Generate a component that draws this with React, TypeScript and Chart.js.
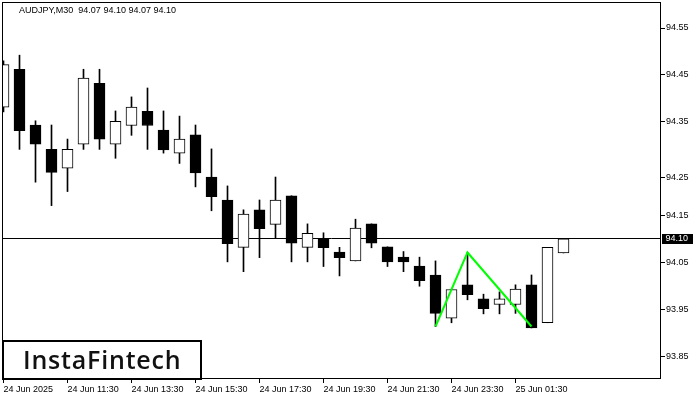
import React, { useEffect, useRef } from "react";
import { Chart, registerables } from "chart.js";

Chart.register(...registerables);

// ---- data ----
const symbolTitle = "AUDJPY,M30  94.07 94.10 94.07 94.10";
const opens = [
  94.381, 94.462, 94.343, 94.291, 94.251, 94.302, 94.432, 94.302, 94.342, 94.372,
  94.332, 94.283, 94.322, 94.232, 94.183, 94.082, 94.162, 94.131, 94.192, 94.082,
  94.1, 94.072, 94.053, 94.132, 94.083, 94.061, 94.042, 94.023, 93.931, 94.002,
  93.972, 93.96, 93.96, 94.002, 93.921, 94.07,
];
const highs = [
  94.48, 94.492, 94.352, 94.343, 94.313, 94.462, 94.462, 94.373, 94.403, 94.422,
  94.373, 94.362, 94.343, 94.292, 94.213, 94.162, 94.183, 94.232, 94.192, 94.132,
  94.113, 94.082, 94.142, 94.132, 94.083, 94.073, 94.061, 94.053, 93.992, 94.071,
  93.982, 93.987, 94.002, 94.023, 94.082, 94.1,
];
const lows = [
  94.371, 94.291, 94.221, 94.171, 94.201, 94.291, 94.291, 94.272, 94.321, 94.291,
  94.283, 94.261, 94.211, 94.16, 94.051, 94.03, 94.06, 94.101, 94.051, 94.051,
  94.041, 94.021, 94.053, 94.081, 94.041, 94.03, 93.999, 93.913, 93.921, 93.97,
  93.94, 93.94, 93.941, 93.91, 93.921, 94.07,
];
const closes = [
  94.472, 94.331, 94.302, 94.242, 94.291, 94.443, 94.313, 94.351, 94.381, 94.342,
  94.29, 94.313, 94.241, 94.19, 94.09, 94.153, 94.122, 94.183, 94.091, 94.112,
  94.081, 94.06, 94.123, 94.091, 94.051, 94.051, 94.011, 93.941, 93.992, 93.981,
  93.951, 93.972, 93.993, 93.91, 94.082, 94.1,
];
const xTickIndex = [0, 4, 8, 12, 16, 20, 24, 28, 32];
const xTickLabels = [
  "24 Jun 2025", "24 Jun 11:30", "24 Jun 13:30", "24 Jun 15:30", "24 Jun 17:30",
  "24 Jun 19:30", "24 Jun 21:30", "24 Jun 23:30", "25 Jun 01:30",
];
const yTickValues = [94.55, 94.45, 94.35, 94.23, 94.15, 94.05, 93.95, 93.85];
const yTickLabels = ["94.55", "94.45", "94.35", "94.25", "94.15", "94.05", "93.95", "93.85"];
const currentPrice = 94.1;
const currentPriceLabel = "94.10";
const patternIndex = [27, 29, 33];
const patternPrice = [93.913, 94.071, 93.913];
const logoText = "InstaFintech";

const X_MIN = -0.09375;
const X_MAX = 41.09375;
const Y_MIN = 93.801;
const Y_MAX = 94.6055;

const SMALL_FONT = "'Liberation Sans', Arial, sans-serif";

export default function App() {
  const ref = useRef<HTMLCanvasElement>(null);

  useEffect(() => {
    const canvas = ref.current;
    if (!canvas) return;
    const idx = opens.map((_, i) => i);
    const bodies = idx.map((i) => ({
      x: i,
      y: [Math.min(opens[i], closes[i]), Math.max(opens[i], closes[i])],
    }));
    const wicks = idx.map((i) => ({ x: i, y: [lows[i], highs[i]] }));
    const bodyColors = idx.map((i) => (closes[i] >= opens[i] ? "#ffffff" : "#000000"));

    const overlay = {
      id: "overlay",
      beforeDraw(chart: any) {
        const ctx = chart.ctx;
        ctx.save();
        ctx.fillStyle = "#ffffff";
        ctx.fillRect(0, 0, chart.width, chart.height);
        ctx.restore();
      },
      beforeDatasetsDraw(chart: any) {
        const { ctx, chartArea, scales } = chart;
        const y = Math.round(scales.y.getPixelForValue(currentPrice)) - 0.5;
        ctx.save();
        ctx.strokeStyle = "#000";
        ctx.lineWidth = 1;
        ctx.beginPath();
        ctx.moveTo(chartArea.left, y);
        ctx.lineTo(chartArea.right, y);
        ctx.stroke();
        ctx.restore();
      },
      afterDatasetsDraw(chart: any) {
        const { ctx, chartArea } = chart;
        ctx.save();
        // logo box
        ctx.fillStyle = "#ffffff";
        ctx.fillRect(chartArea.left, chartArea.bottom - 38, 199, 38);
        ctx.strokeStyle = "#000";
        ctx.lineWidth = 2;
        ctx.strokeRect(chartArea.left + 1, chartArea.bottom - 38, 198, 38);
        ctx.fillStyle = "#111";
        ctx.font = "600 25px 'Open Sans', sans-serif";
        try {
          (ctx as any).letterSpacing = "0.8px";
        } catch (e) {}
        ctx.textBaseline = "alphabetic";
        ctx.textAlign = "left";
        ctx.fillText(logoText, chartArea.left + 21, chartArea.bottom - 10.5);
        ctx.restore();
      },
      afterDraw(chart: any) {
        const { ctx, chartArea, scales } = chart;
        ctx.save();
        ctx.strokeStyle = "#000";
        ctx.lineWidth = 1;
        ctx.strokeRect(
          chartArea.left + 0.5,
          chartArea.top + 0.5,
          chartArea.right - chartArea.left - 1,
          chartArea.bottom - chartArea.top - 1
        );
        // title
        ctx.fillStyle = "#000";
        ctx.font = `9px ${SMALL_FONT}`;
        ctx.textBaseline = "middle";
        ctx.textAlign = "left";
        ctx.fillText(symbolTitle, 19, 10.7);
        // price tag
        const y = Math.round(scales.y.getPixelForValue(currentPrice));
        ctx.fillStyle = "#000";
        ctx.fillRect(chartArea.right + 1, y - 5, 31, 10);
        ctx.fillStyle = "#fff";
        ctx.fillText(currentPriceLabel, chartArea.right + 4.5, y);
        ctx.restore();
      },
    };

    const tickFont = { family: SMALL_FONT, size: 9 };

    const chart = new Chart(canvas, {
      type: "bar",
      data: {
        datasets: [
          {
            type: "line",
            data: patternIndex.map((x, k) => ({ x, y: patternPrice[k] })),
            borderColor: "#00ff00",
            borderWidth: 2,
            pointRadius: 0,
            tension: 0,
            order: 0,
          } as any,
          {
            type: "bar",
            data: bodies,
            backgroundColor: bodyColors,
            borderColor: "#000000",
            borderWidth: 1,
            borderSkipped: false,
            barThickness: 11,
            grouped: false,
            order: 1,
          } as any,
          {
            type: "bar",
            data: wicks,
            backgroundColor: "#000000",
            borderWidth: 0,
            barThickness: 1,
            grouped: false,
            order: 2,
          } as any,
        ],
      },
      options: {
        responsive: false,
        animation: false,
        devicePixelRatio: 1,
        layout: { padding: { left: 2, top: 2, right: 0, bottom: 0 } },
        plugins: { legend: { display: false }, tooltip: { enabled: false } },
        scales: {
          x: {
            type: "linear",
            min: X_MIN,
            max: X_MAX,
            offset: false,
            afterFit: (s: any) => {
              s.height = 21;
              s.paddingLeft = 0;
              s.paddingRight = 0;
              s.paddingTop = 0;
              s.paddingBottom = 0;
            },
            afterBuildTicks: (s: any) => {
              s.ticks = xTickIndex.map((v) => ({ value: v }));
            },
            ticks: {
              autoSkip: false,
              maxRotation: 0,
              minRotation: 0,
              align: "start",
              padding: 1,
              color: "#000",
              font: tickFont,
              callback: (v: any) => {
                const k = xTickIndex.indexOf(Number(v));
                return k >= 0 ? xTickLabels[k] : "";
              },
            },
            grid: { drawOnChartArea: false, drawTicks: true, tickLength: 4, color: "#000", offset: false },
            border: { display: false },
          } as any,
          y: {
            type: "linear",
            position: "right",
            min: Y_MIN,
            max: Y_MAX,
            beginAtZero: false,
            afterFit: (s: any) => {
              s.width = 39;
              s.paddingLeft = 0;
              s.paddingRight = 0;
              s.paddingTop = 0;
              s.paddingBottom = 0;
            },
            afterBuildTicks: (s: any) => {
              s.ticks = yTickValues.map((v) => ({ value: v }));
            },
            ticks: {
              padding: 1,
              color: "#000",
              font: tickFont,
              callback: (_v: any, i: number) => yTickLabels[i],
            },
            grid: { drawOnChartArea: false, drawTicks: true, tickLength: 4, color: "#000" },
            border: { display: false },
          } as any,
        },
      },
      plugins: [overlay],
    } as any);

    return () => chart.destroy();
  }, []);

  return (
    <div style={{ position: "fixed", left: 0, top: 0, width: 700, height: 400, background: "#fff" }}>
      <canvas ref={ref} width={700} height={400} style={{ display: "block" }} />
    </div>
  );
}
